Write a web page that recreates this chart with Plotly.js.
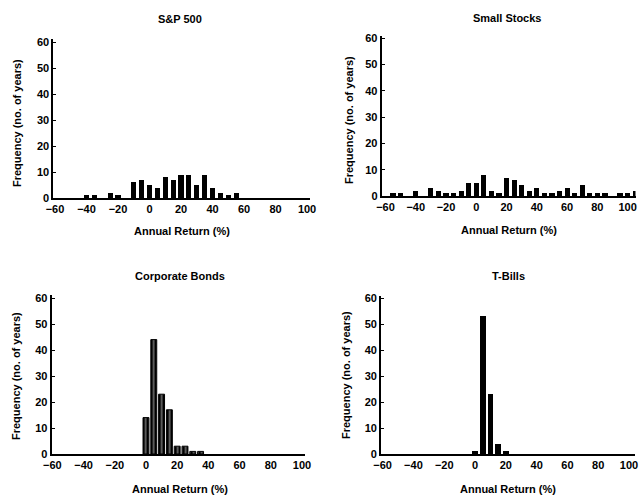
<!DOCTYPE html>
<html>
<head>
<meta charset="utf-8">
<script src="https://cdn.plot.ly/plotly-3.0.1.min.js"></script>
<style>html,body{margin:0;padding:0;background:#fff;}#chart{width:639px;height:499px;}</style>
</head>
<body>
<div id="chart"></div>
<script>
// ---- Data ----
const returnBins = [-60,-55,-50,-45,-40,-35,-30,-25,-20,-15,-10,-5,0,5,10,15,20,25,30,35,40,45,50,55,60,65,70,75,80,85,90,95,100,105];
const sp500Counts = [0,0,0,0,1,1,0,2,1,0,6,7,5,4,8,7,9,9,5,9,4,2,1,2,0,0,0,0,0,0,0,0,0,0];
const smallStockCounts = [0,1,1,0,2,0,3,2,1,1,2,5,5,8,2,1,7,6,4,2,3,1,1,2,3,1,4,1,1,1,0,1,1,2];
const corpBondCounts = [0,0,0,0,0,0,0,0,0,0,0,0,14,44,23,17,3,3,1,1,0,0,0,0,0,0,0,0,0,0,0,0,0,0];
const tBillCounts = [0,0,0,0,0,0,0,0,0,0,0,0,1,53,23,4,1,0,0,0,0,0,0,0,0,0,0,0,0,0,0,0,0,0];
const panelTitles = ["S&P 500","Small Stocks","Corporate Bonds","T-Bills"];
const xTickVals = [-60,-40,-20,0,20,40,60,80,100];
const yTickVals = [0,10,20,30,40,50,60];
const xTitle = "Annual Return (%)";
const yTitle = "Frequency (no. of years)";

// ---- Layout geometry ----
const W = 639, H = 499;
const FONT = "Liberation Sans, Arial, sans-serif";
const FS = 11;
const px = p => p / W;
const py = p => 1 - p / H;

const panels = [
  {x:[53.4,310.2], y:[39.4,198], xr:[-61,102], title:[180,19], xt:[182,231], yt:[17,123]},
  {x:[381.7,635.5], y:[35.7,196], xr:[-62.5,105.2], title:[507,18], xt:[509,230], yt:[349,120]},
  {x:[51.6,305.1], y:[295.4,454], xr:[-60.5,102], title:[180,276], xt:[180,489], yt:[16,376]},
  {x:[381.1,635.2], y:[295.7,454], xr:[-61,104], title:[508,276], xt:[508,489], yt:[346,375]}
];
const seriesList = [sp500Counts, smallStockCounts, corpBondCounts, tBillCounts];
const barWidths = [3.3, 3.4, 3.8, 3.8];

const traces = seriesList.map((counts, i) => {
  // only bins that hold at least one year get a bar
  const xs = [], ys = [];
  counts.forEach((c, k) => { if (c > 0) { xs.push(returnBins[k]); ys.push(c); } });
  const t = {
    type: 'bar',
    x: xs,
    y: ys,
    width: barWidths[i],
    xaxis: i === 0 ? 'x' : 'x' + (i + 1),
    yaxis: i === 0 ? 'y' : 'y' + (i + 1),
    marker: {color: '#000', line: {width: 0}},
    hoverinfo: 'x+y',
    showlegend: false,
    cliponaxis: false
  };
  if (i === 2) {
    t.marker = {color: '#000', line: {color: '#000', width: 1},
      pattern: {shape: '|', fgcolor: '#fff', bgcolor: '#000', size: 4, solidity: 0.18}};
  }
  return t;
});

const layout = {
  width: W, height: H,
  margin: {l: 0, r: 0, t: 0, b: 0},
  paper_bgcolor: '#fff', plot_bgcolor: '#fff',
  font: {family: FONT, size: FS, color: '#000', weight: 'bold'},
  bargap: 0,
  annotations: []
};

panels.forEach((p, i) => {
  const xa = i === 0 ? 'xaxis' : 'xaxis' + (i + 1);
  const ya = i === 0 ? 'yaxis' : 'yaxis' + (i + 1);
  const yid = i === 0 ? 'y' : 'y' + (i + 1);
  const xid = i === 0 ? 'x' : 'x' + (i + 1);
  layout[xa] = {
    domain: [px(p.x[0]), px(p.x[1])], range: p.xr, anchor: yid,
    tickmode: 'array', tickvals: xTickVals, ticks: '',
    showgrid: false, zeroline: false, showline: true, linecolor: '#000', linewidth: 1.5,
    tickfont: {family: FONT, size: FS, color: '#000', weight: 'bold'},
    ticklabeloverflow: 'allow',
    fixedrange: true, automargin: false
  };
  layout[ya] = {
    domain: [py(p.y[1]), py(p.y[0])], range: [0, 61], anchor: xid,
    tickmode: 'array', tickvals: yTickVals, ticks: 'inside', ticklen: 3, tickwidth: 1, tickcolor: '#000',
    showgrid: false, zeroline: false, showline: true, linecolor: '#000', linewidth: 2,
    tickfont: {family: FONT, size: FS, color: '#000', weight: 'bold'},
    ticklabeloverflow: 'allow',
    fixedrange: true, automargin: false
  };
  layout.annotations.push({
    text: panelTitles[i], xref: 'paper', yref: 'paper',
    x: px(p.title[0]), y: py(p.title[1]), xanchor: 'center', yanchor: 'middle',
    showarrow: false, font: {family: FONT, size: FS, color: '#000', weight: 'bold'}
  });
  layout.annotations.push({
    text: xTitle, xref: 'paper', yref: 'paper',
    x: px(p.xt[0]), y: py(p.xt[1]), xanchor: 'center', yanchor: 'middle',
    showarrow: false, font: {family: FONT, size: FS, color: '#000', weight: 'bold'}
  });
  layout.annotations.push({
    text: yTitle, xref: 'paper', yref: 'paper', textangle: -90,
    x: px(p.yt[0]), y: py(p.yt[1]), xanchor: 'center', yanchor: 'middle',
    showarrow: false, font: {family: FONT, size: FS, color: '#000', weight: 'bold'}
  });
});

Plotly.newPlot('chart', traces, layout, {displayModeBar: false, staticPlot: true});
</script>
</body>
</html>
